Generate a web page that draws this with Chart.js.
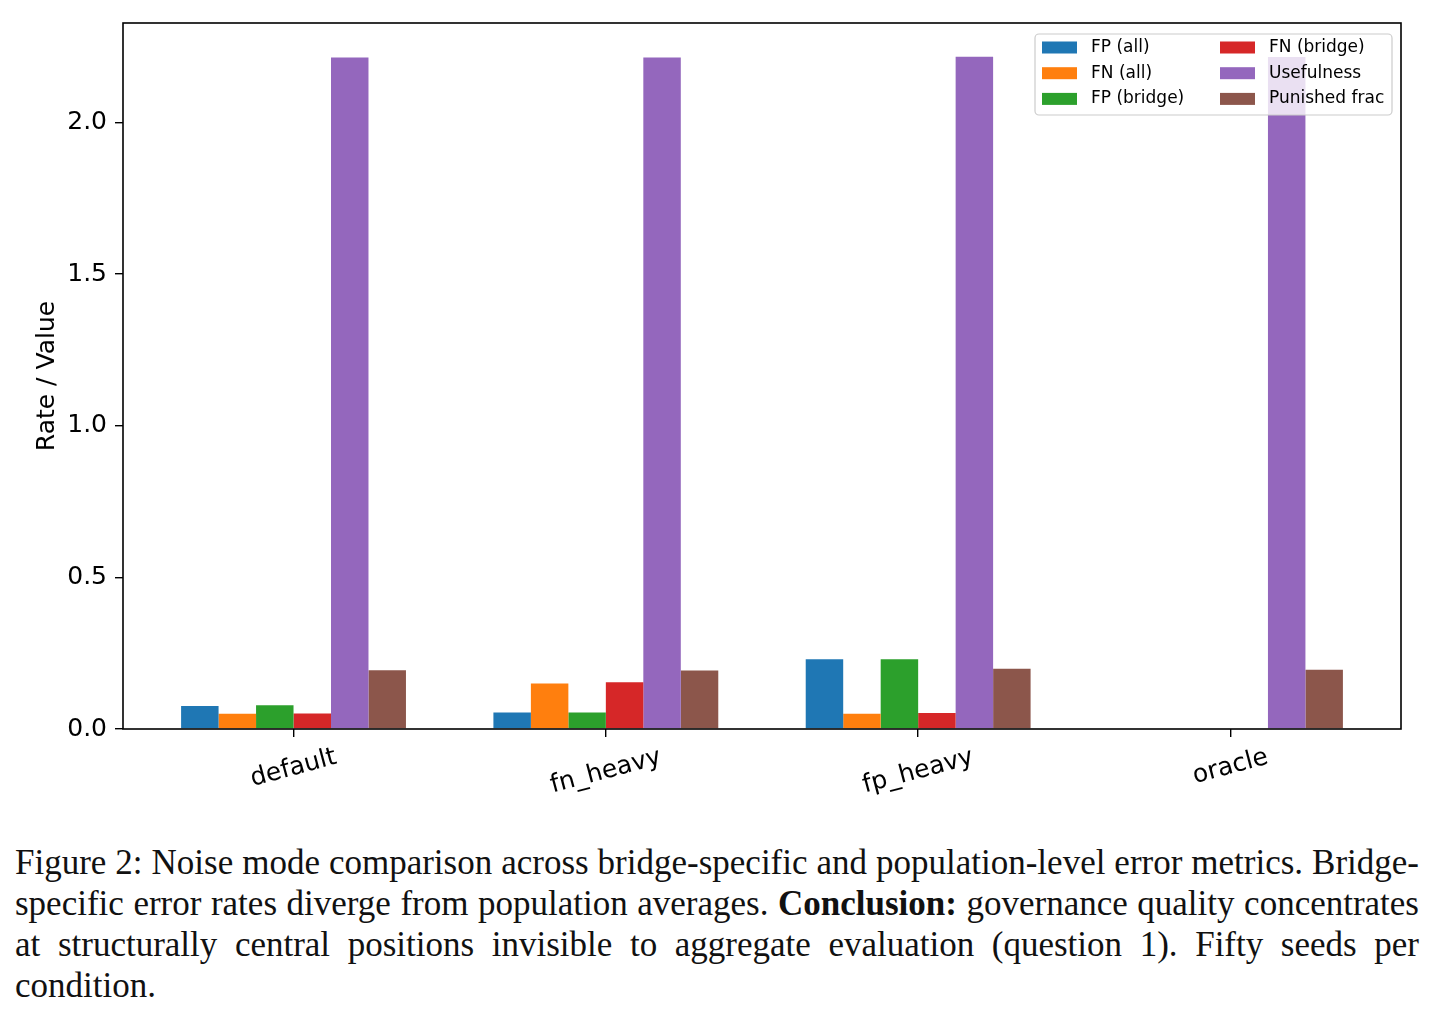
<!DOCTYPE html>
<html>
<head>
<meta charset="utf-8">
<script src="https://cdn.jsdelivr.net/npm/chart.js@4.4.0/dist/chart.umd.min.js"></script>
<style>
  body { margin: 0; background: #fff; }
  #wrap { position: relative; width: 1434px; height: 830px; }
  #caption {
    position: absolute; left: 15px; top: 842px; width: 1404px;
    font-family: "Liberation Serif", serif; font-size: 35px; line-height: 41px; color: #111;
  }
  #caption .ln { text-align: justify; text-align-last: justify; white-space: nowrap; }
  #caption .ln.last { text-align-last: left; }
</style>
</head>
<body>
<div id="wrap"><canvas id="noiseChart"></canvas></div>
<div id="caption">
  <div class="ln">Figure 2: Noise mode comparison across bridge-specific and population-level error metrics. Bridge-</div>
  <div class="ln">specific error rates diverge from population averages. <b>Conclusion:</b> governance quality concentrates</div>
  <div class="ln">at structurally central positions invisible to aggregate evaluation (question 1). Fifty seeds per</div>
  <div class="ln last">condition.</div>
</div>
<script>
const categories = ['default', 'fn_heavy', 'fp_heavy', 'oracle'];
const fpAll = [0.076, 0.054, 0.230, 0];
const fnAll = [0.050, 0.150, 0.050, 0];
const fpBridge = [0.078, 0.054, 0.230, 0];
const fnBridge = [0.051, 0.154, 0.053, 0];
const usefulness = [2.214, 2.214, 2.217, 2.216];
const punishedFrac = [0.194, 0.193, 0.199, 0.195];
const yTicks = [0, 0.5, 1.0, 1.5, 2.0];

const seriesNames = ['FP (all)', 'FN (all)', 'FP (bridge)', 'FN (bridge)', 'Usefulness', 'Punished frac'];
const seriesData = [fpAll, fnAll, fpBridge, fnBridge, usefulness, punishedFrac];
const colors = ['#1f77b4', '#ff7f0e', '#2ca02c', '#d62728', '#9467bd', '#8c564b'];

const tickFont = '25px "DejaVu Sans"';

// frame round the plot, like matplotlib spines
const framePlugin = {
    id: 'frame',
    afterDraw(chart) {
        const { ctx, chartArea: a } = chart;
        ctx.save();
        ctx.strokeStyle = '#000';
        ctx.lineWidth = 1.6;
        ctx.strokeRect(a.left, a.top, a.right - a.left, a.bottom - a.top);
        ctx.restore();
    }
};

// rotated x labels centred on the tick (matplotlib rotation=15)
const xLabelPlugin = {
    id: 'xLabels',
    afterDraw(chart) {
        const { ctx, chartArea: a } = chart;
        const xs = chart.scales.x;
        const ang = 15 * Math.PI / 180;
        ctx.save();
        ctx.font = tickFont;
        ctx.fillStyle = '#000';
        ctx.textAlign = 'center';
        ctx.textBaseline = 'middle';
        categories.forEach((c, i) => {
            const x = xs.getPixelForValue(i);
            const w = ctx.measureText(c).width;
            const h = 29;
            const cy = a.bottom + 14 + (w / 2) * Math.sin(ang) + (h / 2) * Math.cos(ang);
            ctx.save();
            ctx.translate(x, cy);
            ctx.rotate(-ang);
            ctx.fillText(c, 0, 0);
            ctx.restore();
        });
        ctx.restore();
    }
};

// two column legend in the upper right corner
const legendPlugin = {
    id: 'boxLegend',
    afterDatasetsDraw(chart) {
        const { ctx, chartArea: a } = chart;
        const bx = a.right - 366, by = a.top + 11, bw = 357, bh = 81;
        ctx.save();
        ctx.beginPath();
        ctx.roundRect(bx, by, bw, bh, 4);
        ctx.fillStyle = 'rgba(255,255,255,0.8)';
        ctx.fill();
        ctx.strokeStyle = '#cccccc';
        ctx.lineWidth = 1.2;
        ctx.stroke();
        ctx.font = '17px "DejaVu Sans"';
        ctx.textBaseline = 'middle';
        seriesNames.forEach((name, i) => {
            const col = Math.floor(i / 3), row = i % 3;
            const px = bx + 7 + col * 178;
            const cy = by + 13.5 + row * 25.7;
            ctx.fillStyle = colors[i];
            ctx.fillRect(px, cy - 6, 35, 12);
            ctx.fillStyle = '#000';
            ctx.fillText(name, px + 49, cy);
        });
        ctx.restore();
    }
};

function initializeChart() {
    const ctx = document.getElementById('noiseChart').getContext('2d');
    const datasets = seriesData.map((vals, i) => ({
        label: seriesNames[i],
        data: vals.map((v, j) => ({ x: j, y: v })),
        backgroundColor: colors[i],
        borderWidth: 0,
        categoryPercentage: 0.72,
        barPercentage: 1.0
    }));

    new Chart(ctx, {
        type: 'bar',
        data: { datasets: datasets },
        options: {
            responsive: true,
            maintainAspectRatio: false,
            animation: false,
            layout: { padding: { left: 0, right: 33, top: 20, bottom: 21 } },
            plugins: {
                legend: { display: false },
                tooltip: { enabled: false }
            },
            scales: {
                x: {
                    type: 'linear',
                    min: -0.546,
                    max: 3.546,
                    offset: false,
                    border: { display: false },
                    grid: {
                        display: true,
                        offset: false,
                        drawOnChartArea: false,
                        drawTicks: true,
                        tickLength: 8,
                        color: '#000',
                        lineWidth: 1.4
                    },
                    ticks: { display: false },
                    afterBuildTicks: (scale) => {
                        scale.ticks = categories.map((c, i) => ({ value: i }));
                    },
                    afterFit: (scale) => { scale.height = 80; }
                },
                y: {
                    min: 0,
                    max: 2.328,
                    border: { display: false },
                    grid: {
                        display: true,
                        drawOnChartArea: false,
                        drawTicks: true,
                        tickLength: 8,
                        color: '#000',
                        lineWidth: 1.4
                    },
                    ticks: {
                        color: '#000',
                        font: { family: 'DejaVu Sans', size: 25 },
                        padding: 8,
                        callback: (v) => v.toFixed(1)
                    },
                    afterBuildTicks: (scale) => {
                        scale.ticks = yTicks.map(v => ({ value: v }));
                    },
                    title: {
                        display: true,
                        text: 'Rate / Value',
                        color: '#000',
                        font: { family: 'DejaVu Sans', size: 25 },
                        padding: { top: 32, bottom: 0 }
                    },
                    afterFit: (scale) => { scale.width = 123; }
                }
            }
        },
        plugins: [legendPlugin, framePlugin, xLabelPlugin]
    });
}

document.addEventListener('DOMContentLoaded', initializeChart);
</script>
</body>
</html>
